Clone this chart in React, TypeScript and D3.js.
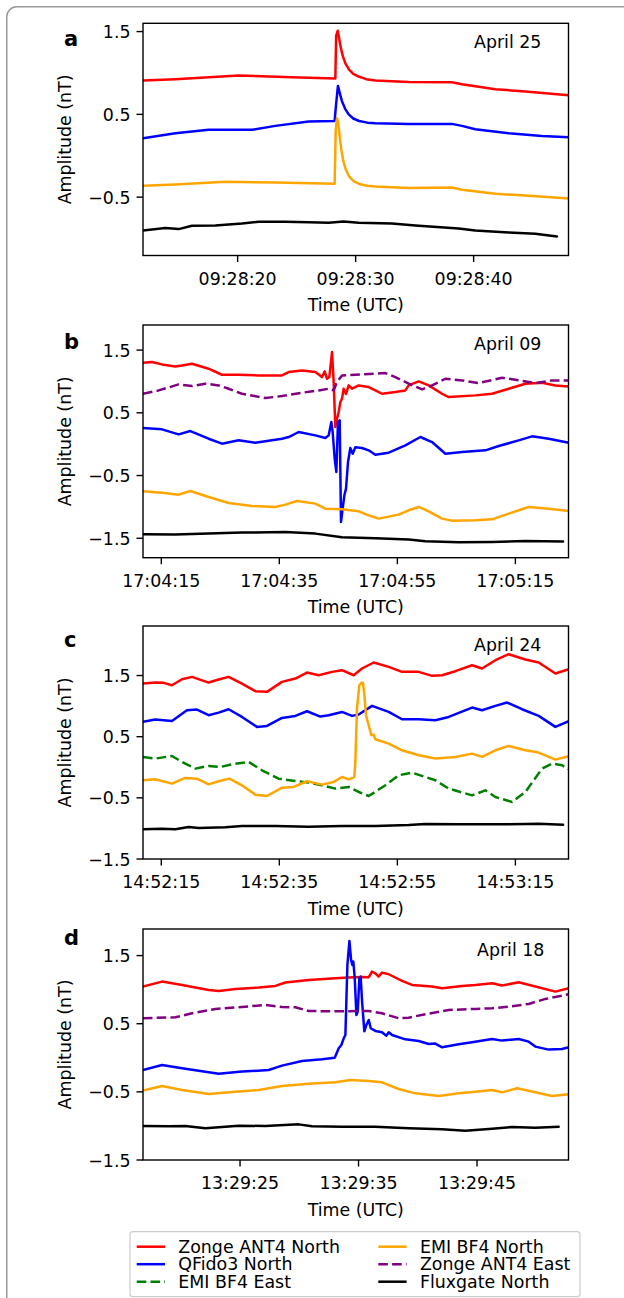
import React from "react";
import * as d3 from "d3";

type Pt = [number, number];

// ---------- Series meta ----------
const seriesNames = ["Zonge ANT4 North", "QFido3 North", "EMI BF4 East", "EMI BF4 North", "Zonge ANT4 East", "Fluxgate North"];
const seriesColors = ["#ff0000", "#0000ff", "#008000", "#ffa500", "#800080", "#000000"];
const seriesDashed = [false, false, true, false, true, false];

// ---------- Panel a (April 25, 09:28:xx seconds) ----------
const aRed: Pt[] = [[11.98,0.908],[14.72,0.925],[20.08,0.969],[24.6,0.949],[28.28,0.933],[28.35,1.45],[28.48,1.51],[28.6,1.42],[28.75,1.3],[28.92,1.2],[29.15,1.11],[29.45,1.04],[29.8,0.99],[30.25,0.957],[30.9,0.925],[31.67,0.908],[34.49,0.892],[38.16,0.888],[39.01,0.864],[41.84,0.804],[44.38,0.776],[48.05,0.731]];
const aBlue: Pt[] = [[11.98,0.212],[14.72,0.273],[17.54,0.313],[21.21,0.313],[23.19,0.361],[26.02,0.413],[28.22,0.421],[28.33,0.6],[28.5,0.844],[28.65,0.76],[28.84,0.66],[29.1,0.57],[29.41,0.5],[29.8,0.45],[30.3,0.42],[31.0,0.4],[31.67,0.393],[34.49,0.385],[38.16,0.385],[39.01,0.361],[40.14,0.321],[42.97,0.273],[45.79,0.24],[48.05,0.224]];
const aOrange: Pt[] = [[11.98,-0.363],[14.72,-0.347],[18.95,-0.315],[23.19,-0.323],[28.22,-0.339],[28.31,0.3],[28.42,0.454],[28.52,0.4],[28.64,0.25],[28.78,0.08],[28.95,-0.06],[29.15,-0.16],[29.45,-0.25],[29.85,-0.31],[30.4,-0.345],[31.0,-0.362],[31.67,-0.371],[34.49,-0.391],[38.16,-0.383],[39.01,-0.411],[41.84,-0.46],[44.38,-0.48],[48.05,-0.516]];
const aBlack: Pt[] = [[11.98,-0.902],[13.87,-0.874],[15.0,-0.886],[16.13,-0.846],[18.11,-0.842],[20.37,-0.818],[21.78,-0.798],[24.04,-0.798],[26.02,-0.802],[27.71,-0.81],[28.98,-0.794],[30.25,-0.81],[33.08,-0.818],[35.06,-0.842],[38.73,-0.878],[40.14,-0.902],[42.97,-0.926],[45.23,-0.942],[47.06,-0.975]];
const aXTicks = [20, 30, 40];
const aXTickLabels = ["09:28:20", "09:28:30", "09:28:40"];
const aYTicks = [1.5, 0.5, -0.5];

// ---------- Panel b (April 09, seconds after 17:04:00) ----------
const bRed: Pt[] = [[11.9,1.298],[13.42,1.309],[15.11,1.272],[17.37,1.24],[18.5,1.255],[20.2,1.282],[23.02,1.203],[25.28,1.107],[28.11,1.107],[31.5,1.096],[35.45,1.096],[36.58,1.15],[38.84,1.176],[41.1,1.15],[42.23,1.07],[42.68,1.16],[43.08,1.043],[43.47,1.07],[43.93,1.468],[44.21,0.99],[44.49,0.273],[44.77,0.406],[45.06,0.512],[45.34,0.672],[45.62,0.725],[45.9,0.884],[46.3,0.8],[46.75,0.937],[47.32,0.884],[48.45,0.937],[50.14,0.91],[51.27,0.857],[52.4,0.804],[54.66,0.831],[56.36,0.857],[56.92,0.937],[58.62,1.0],[60.31,0.937],[62.57,0.804],[63.7,0.751],[68.22,0.778],[71.05,0.804],[73.87,0.884],[76.69,0.964],[79.52,0.98],[81.78,0.937],[84.04,0.921]];
const bPurple: Pt[] = [[11.9,0.804],[14.55,0.857],[17.94,0.953],[20.2,0.926],[22.46,0.964],[24.72,0.937],[26.41,0.884],[28.67,0.804],[32.63,0.735],[35.45,0.767],[38.84,0.82],[41.67,0.857],[43.36,0.884],[44.21,0.857],[44.77,0.99],[45.62,1.096],[47.88,1.107],[51.27,1.123],[52.97,1.134],[54.66,1.07],[56.92,0.964],[59.18,0.873],[60.88,0.937],[63.14,1.043],[65.96,1.017],[68.79,0.974],[72.74,1.059],[75.56,1.017],[78.39,0.974],[81.21,1.017],[84.04,1.017]];
const bBlue: Pt[] = [[11.9,0.257],[15.11,0.236],[17.94,0.156],[19.92,0.209],[23.02,0.087],[25.28,0.008],[28.11,0.061],[30.93,0.024],[35.45,0.087],[36.58,0.114],[38.28,0.194],[41.1,0.14],[42.8,0.098],[43.36,0.14],[43.81,0.353],[44.04,0.194],[44.38,-0.231],[44.66,-0.444],[44.94,0.353],[45.23,0.379],[45.45,-1.24],[45.73,-1.028],[46.02,-0.815],[46.3,-0.709],[46.64,-0.284],[47.03,-0.061],[47.43,-0.152],[47.88,-0.05],[49.01,-0.061],[50.14,-0.098],[51.27,-0.168],[53.53,-0.136],[56.36,-0.019],[58.9,0.114],[60.88,0.034],[63.14,-0.152],[65.96,-0.125],[69.92,-0.098],[72.18,-0.03],[75.56,0.061],[77.82,0.125],[80.65,0.087],[84.04,0.024]];
const bOrange: Pt[] = [[11.9,-0.752],[15.11,-0.773],[17.94,-0.805],[19.92,-0.746],[23.02,-0.842],[26.41,-0.938],[30.37,-0.985],[34.32,-1.001],[36.02,-0.964],[37.99,-0.906],[41.1,-0.948],[42.8,-1.028],[45.62,-1.038],[48.45,-1.07],[50.14,-1.134],[51.84,-1.187],[55.23,-1.123],[56.92,-1.054],[58.62,-1.001],[60.31,-1.07],[62.57,-1.187],[64.27,-1.219],[68.22,-1.214],[71.05,-1.198],[73.87,-1.108],[77.26,-1.001],[80.65,-1.028],[84.04,-1.065]];
const bBlack: Pt[] = [[11.9,-1.437],[17.37,-1.442],[23.02,-1.426],[28.67,-1.41],[36.02,-1.399],[41.1,-1.426],[45.62,-1.484],[51.27,-1.5],[56.92,-1.521],[59.75,-1.548],[65.4,-1.564],[71.05,-1.559],[76.69,-1.543],[83.08,-1.553]];
const bXTicks = [15, 35, 55, 75];
const bXTickLabels = ["17:04:15", "17:04:35", "17:04:55", "17:05:15"];
const bYTicks = [1.5, 0.5, -0.5, -1.5];

// ---------- Panel c (April 24, seconds after 14:52:00) ----------
const cRed: Pt[] = [[11.9,1.369],[13.98,1.385],[15.4,1.38],[16.81,1.342],[18.5,1.44],[20.2,1.478],[23.02,1.385],[24.72,1.435],[26.41,1.478],[28.67,1.369],[30.93,1.244],[32.91,1.233],[35.45,1.396],[37.71,1.451],[39.69,1.549],[41.67,1.505],[43.93,1.56],[45.62,1.587],[47.6,1.505],[49.01,1.615],[50.99,1.713],[53.53,1.642],[55.79,1.56],[58.62,1.56],[60.88,1.495],[62.57,1.505],[64.83,1.571],[67.66,1.669],[69.35,1.615],[71.61,1.751],[73.87,1.849],[76.69,1.762],[78.95,1.713],[81.78,1.533],[84.04,1.604]];
const cBlue: Pt[] = [[11.9,0.742],[13.98,0.78],[16.81,0.758],[19.35,0.933],[21.05,0.944],[23.02,0.851],[24.72,0.894],[26.41,0.949],[28.67,0.823],[31.21,0.66],[32.91,0.676],[35.45,0.807],[37.71,0.84],[39.69,0.916],[41.95,0.829],[43.36,0.851],[45.62,0.905],[47.32,0.84],[48.45,0.862],[50.71,1.004],[53.53,0.905],[55.79,0.785],[58.62,0.785],[61.44,0.769],[63.7,0.823],[67.66,0.976],[69.35,0.933],[71.61,1.004],[73.59,1.058],[76.13,0.949],[78.95,0.84],[81.78,0.66],[84.04,0.753]];
const cGreen: Pt[] = [[11.9,0.169],[13.98,0.142],[16.81,0.185],[18.5,0.087],[20.76,-0.022],[23.02,0.022],[25.0,0.005],[26.98,0.049],[29.8,0.087],[32.06,-0.049],[34.89,-0.186],[37.71,-0.224],[39.97,-0.251],[42.23,-0.295],[44.49,-0.349],[46.75,-0.322],[48.45,-0.404],[50.14,-0.47],[52.97,-0.295],[55.23,-0.131],[57.49,-0.088],[59.75,-0.159],[61.44,-0.213],[63.7,-0.349],[67.66,-0.459],[69.92,-0.377],[71.61,-0.486],[74.44,-0.568],[76.69,-0.404],[79.52,-0.022],[81.21,0.06],[82.91,0.033],[84.04,-0.033]];
const cOrange: Pt[] = [[11.9,-0.213],[13.98,-0.197],[16.81,-0.268],[19.07,-0.175],[21.05,-0.186],[23.02,-0.279],[24.72,-0.229],[26.53,-0.186],[28.67,-0.295],[30.93,-0.448],[32.91,-0.47],[35.45,-0.333],[37.43,-0.322],[39.69,-0.229],[42.23,-0.284],[44.21,-0.24],[45.62,-0.159],[46.75,-0.197],[47.71,-0.159],[47.88,0.087],[48.16,0.96],[48.56,1.342],[48.9,1.38],[49.18,1.38],[49.41,1.178],[49.69,0.851],[50.14,0.687],[50.59,0.523],[50.99,0.534],[51.27,0.458],[53.53,0.387],[55.79,0.278],[58.62,0.196],[61.44,0.142],[64.83,0.169],[67.66,0.223],[69.35,0.169],[71.61,0.278],[73.87,0.349],[76.69,0.278],[78.95,0.24],[81.78,0.125],[84.04,0.18]];
const cBlack: Pt[] = [[11.9,-1.015],[15.11,-1.004],[17.37,-1.015],[19.63,-0.977],[21.33,-0.993],[25.85,-0.982],[28.67,-0.961],[34.32,-0.961],[39.97,-0.971],[45.62,-0.961],[51.27,-0.961],[56.92,-0.944],[59.75,-0.928],[65.4,-0.933],[71.05,-0.933],[76.69,-0.928],[78.95,-0.922],[83.08,-0.939]];
const cXTicks = [15, 35, 55, 75];
const cXTickLabels = ["14:52:15", "14:52:35", "14:52:55", "14:53:15"];
const cYTicks = [1.5, 0.5, -0.5, -1.5];

// ---------- Panel d (April 18, seconds after 13:29:00) ----------
const dRed: Pt[] = [[16.8,1.045],[18.42,1.118],[20.11,1.069],[22.36,0.996],[23.2,0.981],[24.61,1.011],[26.58,1.03],[27.98,1.055],[28.83,1.104],[30.79,1.143],[33.05,1.167],[34.17,1.177],[35.3,1.187],[35.86,1.182],[36.14,1.265],[36.42,1.24],[36.7,1.192],[36.98,1.25],[37.55,1.226],[38.67,1.128],[39.51,1.069],[41.2,1.045],[42.05,1.02],[43.73,1.055],[44.86,1.069],[46.27,1.094],[47.11,1.06],[48.52,1.108],[49.92,1.045],[51.61,0.971],[52.74,1.02]];
const dBlue: Pt[] = [[16.8,-0.179],[18.42,-0.105],[20.11,-0.154],[23.2,-0.233],[25.17,-0.203],[27.42,-0.179],[28.54,-0.115],[30.23,-0.047],[31.92,-0.022],[32.99,0.002],[33.33,0.139],[33.55,0.188],[33.75,0.286],[33.89,0.335],[34.06,1.363],[34.23,1.715],[34.37,1.436],[34.48,1.363],[34.56,1.412],[34.68,1.167],[34.82,0.629],[34.93,0.678],[35.07,1.167],[35.18,1.192],[35.3,0.825],[35.49,0.388],[35.66,0.482],[35.86,0.555],[36.03,0.433],[36.42,0.394],[36.98,0.374],[37.35,0.325],[37.55,0.374],[37.83,0.335],[38.95,0.271],[40.08,0.247],[40.92,0.203],[41.48,0.208],[42.05,0.154],[43.45,0.198],[44.58,0.227],[46.27,0.276],[47.11,0.252],[48.52,0.276],[49.36,0.237],[49.92,0.164],[51.05,0.12],[52.17,0.129],[52.74,0.154]];
const dOrange: Pt[] = [[16.8,-0.482],[18.42,-0.414],[20.11,-0.473],[22.36,-0.531],[24.61,-0.497],[26.58,-0.473],[28.54,-0.414],[30.79,-0.38],[33.05,-0.36],[34.31,-0.326],[35.86,-0.34],[36.98,-0.36],[38.39,-0.458],[39.8,-0.522],[41.77,-0.561],[43.45,-0.522],[44.86,-0.497],[46.27,-0.473],[47.11,-0.507],[48.38,-0.448],[49.92,-0.507],[51.33,-0.561],[52.74,-0.536]];
const dPurple: Pt[] = [[16.8,0.58],[19.54,0.594],[20.95,0.653],[22.92,0.717],[25.17,0.746],[27.14,0.776],[28.54,0.746],[29.67,0.741],[30.79,0.687],[32.48,0.683],[34.17,0.683],[35.86,0.687],[36.98,0.653],[38.39,0.58],[39.23,0.589],[40.64,0.639],[42.61,0.702],[44.86,0.717],[46.27,0.727],[47.67,0.751],[49.36,0.79],[50.77,0.864],[52.74,0.932]];
const dBlack: Pt[] = [[16.8,-1.001],[18.98,-1.006],[20.39,-1.001],[22.07,-1.035],[24.89,-0.996],[27.14,-1.001],[29.95,-0.977],[31.08,-1.006],[33.61,-1.011],[36.42,-1.011],[39.23,-1.035],[42.05,-1.05],[44.02,-1.07],[46.27,-1.04],[47.95,-1.016],[49.92,-1.025],[51.89,-1.011]];
const dXTicks = [25, 35, 45];
const dXTickLabels = ["13:29:25", "13:29:35", "13:29:45"];
const dYTicks = [1.5, 0.5, -0.5, -1.5];

// ---------- layout ----------
const FONT = "'DejaVu Sans', sans-serif";
const FS = 17.4;
const AX_L = 143;
const AX_R = 568.5;
const TICK = 6.5;

type PanelCfg = {
  letter: string; date: string;
  top: number; bottom: number;
  xDomain: [number, number]; yDomain: [number, number];
  xTicks: number[]; xTickLabels: string[]; yTicks: number[];
  series: (Pt[] | null)[]; // order: red, blue, green, orange, purple, black
  letterY: number; dateX: number; dateY: number;
};

const panels: PanelCfg[] = [
  { letter: "a", date: "April 25", top: 23.3, bottom: 255.5, xDomain: [11.98, 48.04], yDomain: [-1.205, 1.6],
    xTicks: aXTicks, xTickLabels: aXTickLabels, yTicks: aYTicks,
    series: [aRed, aBlue, null, aOrange, null, aBlack], letterY: 45.7, dateX: 474, dateY: 48.3 },
  { letter: "b", date: "April 09", top: 325, bottom: 557.7, xDomain: [11.9, 84.0], yDomain: [-1.81, 1.9],
    xTicks: bXTicks, xTickLabels: bXTickLabels, yTicks: bYTicks,
    series: [bRed, bBlue, null, bOrange, bPurple, bBlack], letterY: 349.3, dateX: 474, dateY: 350.3 },
  { letter: "c", date: "April 24", top: 626, bottom: 859, xDomain: [11.9, 84.0], yDomain: [-1.5, 2.31],
    xTicks: cXTicks, xTickLabels: cXTickLabels, yTicks: cYTicks,
    series: [cRed, cBlue, cGreen, cOrange, null, cBlack], letterY: 647.3, dateX: 474, dateY: 651.3 },
  { letter: "d", date: "April 18", top: 929, bottom: 1160, xDomain: [16.81, 52.72], yDomain: [-1.5, 1.89],
    xTicks: dXTicks, xTickLabels: dXTickLabels, yTicks: dYTicks,
    series: [dRed, dBlue, null, dOrange, dPurple, dBlack], letterY: 945, dateX: 477, dateY: 956 },
];

const fmtY = (v: number) => (v < 0 ? "\u2212" : "") + Math.abs(v).toFixed(1);

function Panel({ p, idx }: { p: PanelCfg; idx: number }) {
  const x = d3.scaleLinear().domain(p.xDomain).range([AX_L, AX_R]);
  const y = d3.scaleLinear().domain(p.yDomain).range([p.bottom, p.top]);
  const line = d3.line<Pt>().x((d) => x(d[0])).y((d) => y(d[1]));
  const clipId = `clip-${idx}`;
  const midY = (p.top + p.bottom) / 2;
  return (
    <g>
      <defs>
        <clipPath id={clipId}>
          <rect x={AX_L} y={p.top} width={AX_R - AX_L} height={p.bottom - p.top} />
        </clipPath>
      </defs>
      <g clipPath={`url(#${clipId})`}>
        {p.series.map((s, i) =>
          s ? (
            <path key={i} d={line(s) || ""} fill="none" stroke={seriesColors[i]} strokeWidth={2.5}
              strokeLinejoin="round" strokeLinecap={seriesDashed[i] ? "butt" : "round"}
              strokeDasharray={seriesDashed[i] ? "9.6,4.2" : undefined} />
          ) : null
        )}
      </g>
      <rect x={AX_L} y={p.top} width={AX_R - AX_L} height={p.bottom - p.top} fill="none" stroke="#000" strokeWidth={1.4} />
      {p.xTicks.map((t, i) => (
        <g key={"xt" + i}>
          <line x1={x(t)} x2={x(t)} y1={p.bottom} y2={p.bottom + TICK} stroke="#000" strokeWidth={1.4} />
          <text x={x(t)} y={p.bottom + 29} textAnchor="middle" fontSize={FS} fontFamily={FONT} fill="#000">{p.xTickLabels[i]}</text>
        </g>
      ))}
      {p.yTicks.map((t, i) => (
        <g key={"yt" + i}>
          <line x1={AX_L - TICK} x2={AX_L} y1={y(t)} y2={y(t)} stroke="#000" strokeWidth={1.4} />
          <text x={AX_L - 12.5} y={y(t) + 6.5} textAnchor="end" fontSize={FS} fontFamily={FONT} fill="#000">{fmtY(t)}</text>
        </g>
      ))}
      <text x={(AX_L + AX_R) / 2} y={p.bottom + 55.5} textAnchor="middle" fontSize={FS} fontFamily={FONT} fill="#000">Time (UTC)</text>
      <text transform={`translate(71,${midY}) rotate(-90)`} textAnchor="middle" fontSize={FS} fontFamily={FONT} fill="#000">Amplitude (nT)</text>
      <text x={64} y={p.letterY} fontSize={21} fontWeight="bold" fontFamily={FONT} fill="#000">{p.letter}</text>
      <text x={p.dateX} y={p.dateY} fontSize={FS} fontFamily={FONT} fill="#000">{p.date}</text>
    </g>
  );
}

// legend layout: column-wise fill, 2 columns x 3 rows
const legendCols = [136.7, 378.3];
const legendRows = [1246.7, 1264.2, 1281.7];

export default function App() {
  return (
    <svg width={624} height={1298} style={{ position: "absolute", left: 0, top: 0, background: "#fff" }}>
      <rect x={0} y={0} width={624} height={1298} fill="#fff" />
      <rect x={6.75} y={6.75} width={626} height={1320} rx={10} ry={10} fill="none" stroke="#999" strokeWidth={1.5} />
      {panels.map((p, i) => (
        <Panel key={i} p={p} idx={i} />
      ))}
      <rect x={130} y={1231.7} width={450} height={65} rx={3} ry={3} fill="#fff" stroke="#cccccc" strokeWidth={1.2} />
      {seriesNames.map((name, i) => {
        const col = Math.floor(i / 3);
        const row = i % 3;
        const hx = legendCols[col];
        const hy = legendRows[row];
        return (
          <g key={name}>
            <line x1={hx} x2={hx + 28.3} y1={hy} y2={hy} stroke={seriesColors[i]} strokeWidth={2.5}
              strokeDasharray={seriesDashed[i] ? "9.6,4.2" : undefined} />
            <text x={hx + 41.6} y={hy + 6} fontSize={FS} fontFamily={FONT} fill="#000">{name}</text>
          </g>
        );
      })}
    </svg>
  );
}
